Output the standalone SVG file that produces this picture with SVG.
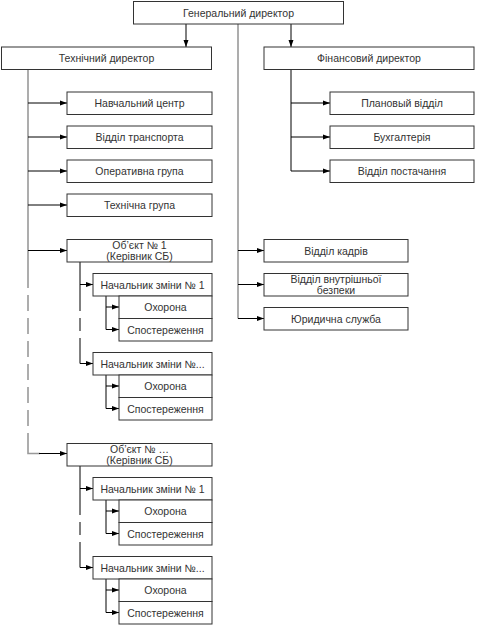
<svg xmlns="http://www.w3.org/2000/svg" width="477" height="627" viewBox="0 0 477 627">
<style>
.box{fill:#fff;stroke:#333;stroke-width:1}
.t{font-family:"Liberation Sans",Arial,sans-serif;font-size:10.5px;fill:#333;text-anchor:middle}
.g{stroke:#999;stroke-width:1.6;fill:none}
.k{stroke:#000;stroke-width:1;fill:none}
.a{stroke:#000;stroke-width:1;fill:none;marker-end:url(#ah)}
</style>
<defs>
<marker id="ah" markerWidth="8" markerHeight="6" refX="7" refY="3" orient="auto" markerUnits="userSpaceOnUse">
<path d="M0,0.5 L7,3 L0,5.5 Z" fill="#000"/>
</marker>
</defs>
<rect width="477" height="627" fill="#fff"/>
<g id="connectors">
<line class="a" x1="186" y1="24" x2="186" y2="47"/>
<line class="a" x1="291" y1="24" x2="291" y2="47"/>
<line class="g" x1="238" y1="24" x2="238" y2="318.5"/>
<line class="a" x1="238" y1="250.5" x2="264" y2="250.5"/>
<line class="a" x1="238" y1="284.5" x2="264" y2="284.5"/>
<line class="a" x1="238" y1="318.5" x2="264" y2="318.5"/>
<line class="k" x1="291" y1="70" x2="291" y2="171"/>
<line class="a" x1="291" y1="103" x2="330" y2="103"/>
<line class="a" x1="291" y1="137" x2="330" y2="137"/>
<line class="a" x1="291" y1="171" x2="330" y2="171"/>
<line class="g" x1="28" y1="70" x2="28" y2="272"/>
<line class="g" x1="28" y1="272" x2="28" y2="433" stroke-dasharray="16 7"/>
<polyline class="g" points="28,433 28,453.5 40,453.5"/>
<line class="a" x1="28" y1="103" x2="67" y2="103"/>
<line class="a" x1="28" y1="137" x2="67" y2="137"/>
<line class="a" x1="28" y1="171" x2="67" y2="171"/>
<line class="a" x1="28" y1="205" x2="67" y2="205"/>
<line class="a" x1="28" y1="250.5" x2="67" y2="250.5"/>
<line class="a" x1="39" y1="453.5" x2="67" y2="453.5"/>
<line class="k" x1="80" y1="262" x2="80" y2="298"/>
<line class="k" x1="80" y1="298" x2="80" y2="350" stroke-dasharray="13 7"/>
<line class="k" x1="80" y1="350" x2="80" y2="363.5"/>
<line class="a" x1="80" y1="284.5" x2="93" y2="284.5"/>
<line class="a" x1="80" y1="363.5" x2="93" y2="363.5"/>
<line class="k" x1="106" y1="296" x2="106" y2="329.5"/>
<line class="a" x1="106" y1="307" x2="119" y2="307"/>
<line class="a" x1="106" y1="329.5" x2="119" y2="329.5"/>
<line class="k" x1="106" y1="375" x2="106" y2="408.5"/>
<line class="a" x1="106" y1="386" x2="119" y2="386"/>
<line class="a" x1="106" y1="408.5" x2="119" y2="408.5"/>
<line class="k" x1="80" y1="466" x2="80" y2="502"/>
<line class="k" x1="80" y1="502" x2="80" y2="554" stroke-dasharray="13 7"/>
<line class="k" x1="80" y1="554" x2="80" y2="567.5"/>
<line class="a" x1="80" y1="488.5" x2="93" y2="488.5"/>
<line class="a" x1="80" y1="567.5" x2="93" y2="567.5"/>
<line class="k" x1="106" y1="500" x2="106" y2="533.5"/>
<line class="a" x1="106" y1="511" x2="119" y2="511"/>
<line class="a" x1="106" y1="533.5" x2="119" y2="533.5"/>
<line class="k" x1="106" y1="579" x2="106" y2="612.5"/>
<line class="a" x1="106" y1="590" x2="119" y2="590"/>
<line class="a" x1="106" y1="612.5" x2="119" y2="612.5"/>
</g>
<g id="gen"><rect class="box" x="133.5" y="1.5" width="210" height="22.5"/><text class="t" x="238.5" y="16.5">Генеральний директор</text></g>
<g id="tech"><rect class="box" x="1.5" y="47" width="210" height="22.5"/><text class="t" x="106.5" y="62">Технічний директор</text></g>
<g id="fin"><rect class="box" x="264" y="47" width="210" height="22.5"/><text class="t" x="369" y="62">Фінансовий директор</text></g>
<g id="n1"><rect class="box" x="67" y="92" width="145" height="22.5"/><text class="t" x="139.5" y="107">Навчальний центр</text></g>
<g id="n2"><rect class="box" x="67" y="126" width="145" height="22.5"/><text class="t" x="139.5" y="141">Відділ транспорта</text></g>
<g id="n3"><rect class="box" x="67" y="160" width="145" height="22.5"/><text class="t" x="139.5" y="175">Оперативна група</text></g>
<g id="n4"><rect class="box" x="67" y="194" width="145" height="22.5"/><text class="t" x="139.5" y="209">Технічна група</text></g>
<g id="f1"><rect class="box" x="330" y="92" width="144" height="22.5"/><text class="t" x="402" y="107">Плановый відділ</text></g>
<g id="f2"><rect class="box" x="330" y="126" width="144" height="22.5"/><text class="t" x="402" y="141">Бухгалтерія</text></g>
<g id="f3"><rect class="box" x="330" y="160" width="144" height="22.5"/><text class="t" x="402" y="175">Відділ постачання</text></g>
<g id="r1"><rect class="box" x="264" y="239.5" width="144" height="22.5"/><text class="t" x="336" y="254.5">Відділ кадрів</text></g>
<g id="r2"><rect class="box" x="264" y="273.5" width="144" height="22.5"/><text class="t" x="336" y="282.5">Відділ внутрішньої</text><text class="t" x="336" y="294">безпеки</text></g>
<g id="r3"><rect class="box" x="264" y="307.5" width="144" height="22.5"/><text class="t" x="336" y="322.5">Юридична служба</text></g>
<g id="obj1"><rect class="box" x="67" y="239.5" width="145" height="22.5"/><text class="t" x="139.5" y="248.5">Об’єкт № 1</text><text class="t" x="139.5" y="260">(Керівник СБ)</text></g>
<g id="o1s1"><rect class="box" x="93" y="273.5" width="119" height="22.5"/><text class="t" x="152.5" y="288.5">Начальник зміни № 1</text></g>
<g id="o1s1a"><rect class="box" x="119" y="296" width="93" height="22.5"/><text class="t" x="165.5" y="311">Охорона</text></g>
<g id="o1s1b"><rect class="box" x="119" y="318.5" width="93" height="22.5"/><text class="t" x="165.5" y="333.5">Спостереження</text></g>
<g id="o1s2"><rect class="box" x="93" y="352.5" width="119" height="22.5"/><text class="t" x="152.5" y="367.5">Начальник зміни №...</text></g>
<g id="o1s2a"><rect class="box" x="119" y="375" width="93" height="22.5"/><text class="t" x="165.5" y="390">Охорона</text></g>
<g id="o1s2b"><rect class="box" x="119" y="397.5" width="93" height="22.5"/><text class="t" x="165.5" y="412.5">Спостереження</text></g>
<g id="obj2"><rect class="box" x="67" y="443.5" width="145" height="22.5"/><text class="t" x="139.5" y="452.5">Об’єкт № …</text><text class="t" x="139.5" y="464">(Керівник СБ)</text></g>
<g id="o2s1"><rect class="box" x="93" y="477.5" width="119" height="22.5"/><text class="t" x="152.5" y="492.5">Начальник зміни № 1</text></g>
<g id="o2s1a"><rect class="box" x="119" y="500" width="93" height="22.5"/><text class="t" x="165.5" y="515">Охорона</text></g>
<g id="o2s1b"><rect class="box" x="119" y="522.5" width="93" height="22.5"/><text class="t" x="165.5" y="537.5">Спостереження</text></g>
<g id="o2s2"><rect class="box" x="93" y="556.5" width="119" height="22.5"/><text class="t" x="152.5" y="571.5">Начальник зміни №...</text></g>
<g id="o2s2a"><rect class="box" x="119" y="579" width="93" height="22.5"/><text class="t" x="165.5" y="594">Охорона</text></g>
<g id="o2s2b"><rect class="box" x="119" y="601.5" width="93" height="22.5"/><text class="t" x="165.5" y="616.5">Спостереження</text></g>
</svg>
